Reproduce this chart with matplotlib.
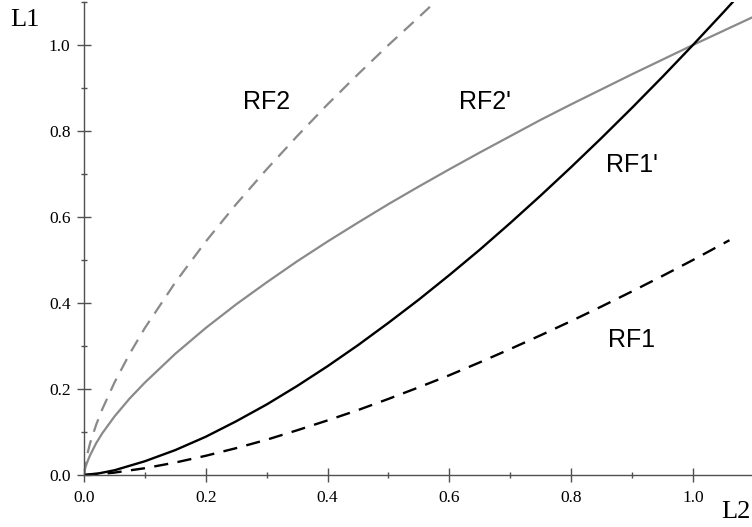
import numpy as np
from matplotlib import pyplot as plt
from matplotlib.ticker import MultipleLocator

# values
x_rf2p = [0, 0.002, 0.005, 0.01, 0.02, 0.03, 0.05, 0.075, 0.1, 0.15, 0.2, 0.25, 0.3, 0.35,
          0.4, 0.45, 0.5, 0.55, 0.6, 0.65, 0.7, 0.75, 0.8, 0.85, 0.9, 0.95, 1.0, 1.05, 1.1]
y_rf2p = [0, 0.016, 0.029, 0.046, 0.074, 0.097, 0.136, 0.178, 0.215, 0.282, 0.342, 0.397, 0.448,
          0.497, 0.543, 0.587, 0.630, 0.671, 0.711, 0.750, 0.788, 0.826, 0.862, 0.897, 0.932,
          0.966, 1.0, 1.033, 1.066]

x_rf2 = [0, 0.002, 0.005, 0.01, 0.02, 0.03, 0.05, 0.075, 0.1, 0.15, 0.2, 0.25, 0.3, 0.35,
         0.4, 0.45, 0.5, 0.55, 0.575]
y_rf2 = [0, 0.025, 0.046, 0.074, 0.117, 0.153, 0.215, 0.282, 0.342, 0.448, 0.543, 0.630, 0.711,
         0.788, 0.862, 0.932, 1.0, 1.065, 1.098]

x_rf1p = [0, 0.025, 0.05, 0.1, 0.15, 0.2, 0.25, 0.3, 0.35, 0.4, 0.45, 0.5, 0.55, 0.6, 0.65,
          0.7, 0.75, 0.8, 0.85, 0.9, 0.95, 1.0, 1.05, 1.07]
y_rf1p = [0, 0.004, 0.011, 0.032, 0.058, 0.089, 0.125, 0.164, 0.207, 0.253, 0.302, 0.354, 0.408,
          0.465, 0.524, 0.586, 0.650, 0.716, 0.784, 0.854, 0.926, 1.0, 1.076, 1.107]

x_rf1 = [0, 0.025, 0.05, 0.1, 0.15, 0.2, 0.25, 0.3, 0.35, 0.4, 0.45, 0.5, 0.55, 0.6, 0.65,
         0.7, 0.75, 0.8, 0.85, 0.9, 0.95, 1.0, 1.06]
y_rf1 = [0, 0.002, 0.0056, 0.0158, 0.029, 0.0447, 0.0625, 0.082, 0.104, 0.127, 0.151, 0.177,
         0.204, 0.232, 0.262, 0.293, 0.325, 0.358, 0.392, 0.427, 0.463, 0.5, 0.546]

labels = ["RF2", "RF2'", "RF1'", "RF1"]
label_pos = [(0.30, 0.867), (0.658, 0.867), (0.90, 0.72), (0.90, 0.314)]

gray = "#8a8a8a"
W, H = 752, 527
fig = plt.figure(figsize=(W / 100, H / 100), dpi=100)
ax = fig.add_axes([84 / W, 52 / H, (W - 84) / W, 473 / H])
ax.set_xlim(0, 1.097)
ax.set_ylim(0, 1.1)

ax.plot(x_rf2p, y_rf2p, color=gray, lw=1.6)
ax.plot(x_rf2, y_rf2, color=gray, lw=1.6, dashes=(6, 4))
ax.plot(x_rf1p, y_rf1p, color="black", lw=1.7)
ax.plot(x_rf1, y_rf1, color="black", lw=1.7, dashes=(6, 4))

for lab, (lx, ly) in zip(labels, label_pos):
    ax.text(lx, ly, lab, fontsize=18, family="Liberation Sans", ha="center", va="center")

for s in ["top", "right"]:
    ax.spines[s].set_visible(False)
for s in ["left", "bottom"]:
    ax.spines[s].set_color("#505050")
    ax.spines[s].set_linewidth(1.0)

ax.xaxis.set_major_locator(MultipleLocator(0.2))
ax.xaxis.set_minor_locator(MultipleLocator(0.1))
ax.yaxis.set_major_locator(MultipleLocator(0.2))
ax.yaxis.set_minor_locator(MultipleLocator(0.1))
ax.xaxis.set_major_formatter(lambda v, p: f"{v:.1f}")
ax.yaxis.set_major_formatter(lambda v, p: f"{v:.1f}")
ax.tick_params(which="major", direction="inout", length=9.4, width=1.0, color="#505050",
               labelsize=12.5, pad=5)
ax.tick_params(which="minor", direction="inout", length=4.6, width=1.0, color="#505050")
ax.tick_params(axis="x", which="major", pad=6)
for t in ax.get_xticklabels() + ax.get_yticklabels():
    t.set_family("Liberation Serif")

fig.text(25 / W, 1 - 20 / H, "L1", fontsize=19, family="Liberation Serif", ha="center", va="center")
fig.text(736 / W, 1 - 512 / H, "L2", fontsize=19, family="Liberation Serif", ha="center", va="center")

fig.savefig("out.png", dpi=100)
